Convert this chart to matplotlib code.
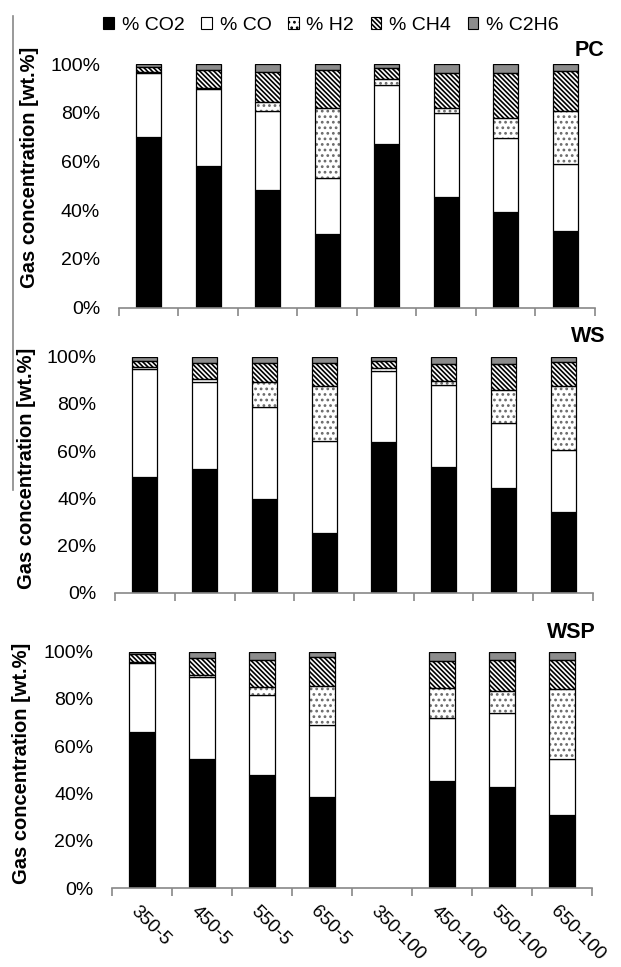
#!/usr/bin/env python3
# Stacked gas composition bars for PC, WS and WSP

import numpy as np
import matplotlib.pyplot as plt
from matplotlib.patches import Patch
from matplotlib.lines import Line2D

plt.rcParams['font.family'] = ['Liberation Sans', 'DejaVu Sans']
plt.rcParams['hatch.linewidth'] = 1.2

# =============================================================
# Data (wt.%)
labels = ['350-5', '450-5', '550-5', '650-5', '350-100', '450-100', '550-100', '650-100']
gases = ['% CO2', '% CO', '% H2', '% CH4', '% C2H6']

pc_co2 = [70.0, 58.3, 48.5, 30.3, 67.2, 45.6, 39.2, 31.3]
pc_co = [26.2, 31.5, 32.4, 22.8, 24.3, 34.2, 30.3, 27.7]
pc_h2 = [0.5, 0.5, 3.4, 28.9, 2.4, 2.2, 8.4, 21.9]
pc_ch4 = [2.1, 7.2, 12.6, 15.5, 4.3, 14.4, 18.3, 16.4]
pc_c2h6 = [1.2, 2.5, 3.1, 2.5, 1.8, 3.6, 3.8, 2.7]

ws_co2 = [48.9, 52.3, 39.8, 25.4, 64.0, 53.4, 44.5, 34.3]
ws_co = [45.9, 37.0, 39.0, 38.9, 29.9, 34.5, 27.5, 26.2]
ws_h2 = [1.0, 1.4, 10.3, 23.3, 1.2, 1.8, 13.9, 27.1]
ws_ch4 = [2.5, 6.5, 8.4, 9.6, 3.2, 7.2, 11.1, 10.3]
ws_c2h6 = [1.7, 2.8, 2.5, 2.8, 1.7, 3.1, 3.0, 2.1]

wsp_co2 = [65.9, 54.8, 47.9, 38.7, 0.0, 45.4, 43.0, 31.0]
wsp_co = [29.2, 34.6, 33.9, 30.3, 0.0, 26.7, 30.9, 23.6]
wsp_h2 = [0.4, 0.7, 3.4, 16.5, 0.0, 12.7, 9.6, 29.5]
wsp_ch4 = [3.5, 7.1, 11.3, 12.1, 0.0, 11.4, 13.0, 12.4]
wsp_c2h6 = [1.0, 2.8, 3.5, 2.4, 0.0, 3.8, 3.5, 3.5]

panels = [
  ('PC', [pc_co2, pc_co, pc_h2, pc_ch4, pc_c2h6]),
  ('WS', [ws_co2, ws_co, ws_h2, ws_ch4, ws_c2h6]),
  ('WSP', [wsp_co2, wsp_co, wsp_h2, wsp_ch4, wsp_c2h6]),
]

# face colour, hatch and hatch colour for each gas
styles = [('black', None, 'black'), ('white', None, 'black'),
          ('white', '...', '#6a6a6a'), ('white', '\\' * 7, 'black'),
          ('#8c8c8c', None, 'black')]

# axes rectangles in figure fractions
rects = [
  [0.1916, 0.6818, 0.7665, 0.2520],
  [0.1852, 0.3871, 0.7697, 0.2441],
  [0.1804, 0.0814, 0.7729, 0.2447],
]
title_pos = [(0.950, 0.948), (0.947, 0.6515), (0.9195, 0.3454)]
ylabel_pos = [(0.048, 1 - 167 / 967), (0.043, 1 - 468 / 967), (0.034, 1 - 763 / 967)]

# =============================================================
fig = plt.figure(figsize=(6.21, 9.67), dpi=100)
x = np.arange(len(labels))

for i, (name, series) in enumerate(panels):
  ax = fig.add_axes(rects[i])
  bottom = np.zeros(len(labels))
  for vals, (fc, hatch, hc) in zip(series, styles):
    vals = np.array(vals)
    # no outline where a segment is empty
    ec = ['black' if v > 0 else 'none' for v in vals]
    if hatch:
      hec = [hc if v > 0 else 'none' for v in vals]
      ax.bar(x, vals, 0.42, bottom=bottom, color=fc, edgecolor=hec,
             linewidth=0, hatch=hatch, zorder=2)
      ax.bar(x, vals, 0.42, bottom=bottom, fill=False, edgecolor=ec,
             linewidth=0.9, zorder=3)
    else:
      ax.bar(x, vals, 0.42, bottom=bottom, color=fc, edgecolor=ec,
             linewidth=0.9, zorder=2)
    bottom += vals

  ax.set_xlim(-0.5, len(labels) - 0.5)
  ax.set_ylim(0, 100)
  ax.set_yticks([0, 20, 40, 60, 80, 100])
  ax.set_yticklabels(['0%', '20%', '40%', '60%', '80%', '100%'], fontsize=14)
  ax.tick_params(axis='y', length=0, pad=13.5)

  for s in ['top', 'right', 'left']:
    ax.spines[s].set_visible(False)
  ax.spines['bottom'].set_color('#888888')
  ax.spines['bottom'].set_linewidth(1.2)

  ax.set_xticks(np.arange(len(labels) + 1) - 0.5)
  ax.set_xticklabels([])
  ax.tick_params(axis='x', length=6, color='#888888', width=1.2)

  fig.text(ylabel_pos[i][0], ylabel_pos[i][1], 'Gas concentration [wt.%]',
           fontsize=14.5, fontweight='bold', rotation=90,
           ha='center', va='center')
  fig.text(title_pos[i][0], title_pos[i][1], name, fontsize=15.5,
           fontweight='bold', ha='center', va='center')

  if i == 2:
    for xi, lab in zip(x, labels):
      ax.text(xi - 0.04, -6, lab, rotation=-45, rotation_mode='anchor',
              ha='left', va='top', fontsize=13.5, clip_on=False)

# legend on top
handles = [Patch(facecolor=fc, edgecolor='black', hatch=h, linewidth=0.8)
           for fc, h, hc in styles]
fig.legend(handles, gases, loc='center', bbox_to_anchor=(0.533, 0.974),
           ncol=5, frameon=False, fontsize=14, handlelength=0.55,
           handleheight=0.55, handletextpad=0.4, columnspacing=0.85,
           borderpad=0.2)

# stray grey rule on the left
fig.add_artist(Line2D([0.021, 0.021], [0.983, 0.493], color='#888888',
                      linewidth=1.2, transform=fig.transFigure))

plt.savefig('out.png', dpi=100)
